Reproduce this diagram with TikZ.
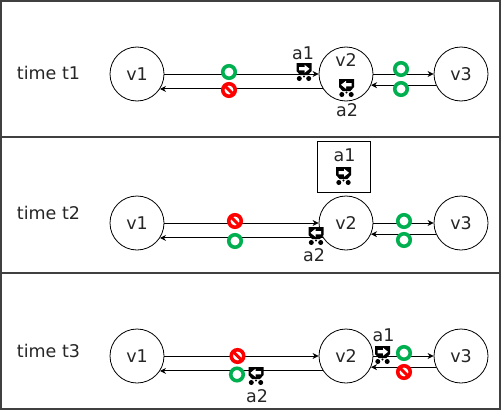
\documentclass[tikz,border=0pt]{standalone}
\usepackage{fontspec}
\setmainfont{DejaVu Sans}
\usetikzlibrary{arrows.meta, positioning}
\definecolor{MarkGreen}{HTML}{00B050}
\definecolor{MarkRed}{HTML}{FF0000}
\definecolor{FrameGray}{HTML}{404040}
\definecolor{TextGray}{HTML}{262626}
\tikzset{
    % Node styles
    vertexnode/.style={
        circle,
        draw=black,
        fill=white,
        line width=0.8pt,
        minimum size=54pt,
        inner sep=0pt,
        text=TextGray,
        font=\fontsize{17.5}{20}\selectfont
    },
    labelnode/.style={
        inner sep=0pt,
        text=TextGray,
        font=\fontsize{17.5}{20}\selectfont
    },
    openmark/.style={
        circle,
        draw=MarkGreen,
        fill=white,
        line width=3.6pt,
        minimum size=12.5pt,
        inner sep=0pt
    },
    blockmark/.style={
        openmark,
        draw=MarkRed,
        path picture={
            \draw[MarkRed,line width=3pt]
                (path picture bounding box.north west) -- (path picture bounding box.south east);
        }
    },
    % Arrow styles
    myarrow/.style={
        -{Stealth[length=6pt,width=6pt]},
        line width=0.9pt,
        black
    },
    % Frame styles
    framebox/.style={
        draw=FrameGray,
        line width=2pt
    },
    holdbox/.style={
        draw=black,
        line width=0.9pt
    },
    % Agent icons
    agentbody/.pic={
        \fill[black] (-7.5,-6) -- (7.5,-6) -- (7.5,2) -- (4,6) -- (-4,6) -- (-7.5,2) -- cycle;
        \fill[black] (-4.7,9.5) circle (2.5);
        \fill[black] (4.7,9.5) circle (2.5);
        \fill[black] (0,7.5) circle (1.2);
    },
    agentright/.pic={
        \pic {agentbody};
        \fill[white] (-5,-1.8) -- (0.5,-1.8) -- (0.5,-4.2) -- (5.5,-0.2) -- (0.5,3.8) -- (0.5,1.4) -- (-5,1.4) -- cycle;
    },
    agentleft/.pic={
        \pic {agentbody};
        \fill[white] (5,-1.8) -- (-0.5,-1.8) -- (-0.5,-4.2) -- (-5.5,-0.2) -- (-0.5,3.8) -- (-0.5,1.4) -- (5,1.4) -- cycle;
    }
}
\begin{document}
\begin{tikzpicture}[x=1pt,y=-1pt]
    \useasboundingbox (0,0) rectangle (502,412);

    % Frames
    \draw[framebox] (1,1) rectangle (500,137);
    \draw[framebox] (1,137) rectangle (500,273);
    \draw[framebox] (1,273) rectangle (500,409);

    % Time t1
    \node[labelnode] (timeA) at (48.5,73) {time t1};
    \node[vertexnode] (v1A) at (137,74) {v1};
    \node[vertexnode] (v2A) at (346,74) {};
    \node[vertexnode] (v3A) at (461,74) {v3};
    \node[labelnode] (v2Atext) at (346,60.5) {v2};

    \draw[myarrow] (v1A.east) -- (v2A.west);
    \draw[myarrow] (v2A.213.7) -- (v1A.-33.7);
    \draw[myarrow] (v2A.east) -- (v3A.west);
    \draw[myarrow] (v3A.204) -- (v2A.-24);

    \node[openmark] (goA) at (229,72) {};
    \node[blockmark] (stopA) at (229,90) {};
    \node[openmark] (goAa) at (401,69) {};
    \node[openmark] (goAb) at (401,89) {};

    \pic at (304,69) {agentright};
    \node[labelnode] (a1A) at (303,53) {a1};
    \pic at (346.5,85) {agentleft};
    \node[labelnode] (a2A) at (347,110) {a2};

    % Time t2
    \node[labelnode] (timeB) at (48.5,213) {time t2};
    \node[vertexnode] (v1B) at (137,223) {v1};
    \node[vertexnode] (v2B) at (346,223) {v2};
    \node[vertexnode] (v3B) at (461,223) {v3};

    \draw[myarrow] (v1B.east) -- (v2B.west);
    \draw[myarrow] (v2B.213.7) -- (v1B.-33.7);
    \draw[myarrow] (v2B.east) -- (v3B.west);
    \draw[myarrow] (v3B.204) -- (v2B.-24);

    \node[blockmark] (stopB) at (235,221) {};
    \node[openmark] (goB) at (235,241) {};
    \node[openmark] (goBa) at (404,221) {};
    \node[openmark] (goBb) at (404,240) {};

    \node[holdbox,minimum width=53pt,minimum height=51pt] (hold) at (343.5,166.5) {};
    \node[labelnode] (a1B) at (344.5,155) {a1};
    \pic at (343.5,173) {agentright};
    \pic at (316,233) {agentleft};
    \node[labelnode] (a2B) at (314,255) {a2};

    % Time t3
    \node[labelnode] (timeC) at (48.5,351) {time t3};
    \node[vertexnode] (v1C) at (137,356) {v1};
    \node[vertexnode] (v2C) at (346,356) {v2};
    \node[vertexnode] (v3C) at (461,356) {v3};

    \draw[myarrow] (v1C.east) -- (v2C.west);
    \draw[myarrow] (v2C.213.7) -- (v1C.-33.7);
    \draw[myarrow] (v2C.east) -- (v3C.west);
    \draw[myarrow] (v3C.204) -- (v2C.-24);

    \node[blockmark] (stopC) at (237.5,356) {};
    \node[openmark] (goC) at (237,374.5) {};
    \node[openmark] (goCa) at (404,353) {};
    \node[blockmark] (stopCa) at (404,372) {};

    \pic at (382.5,352) {agentright};
    \node[labelnode] (a1C) at (383.5,335.5) {a1};
    \pic at (256,373) {agentleft};
    \node[labelnode] (a2C) at (257,396) {a2};
\end{tikzpicture}
\end{document}
